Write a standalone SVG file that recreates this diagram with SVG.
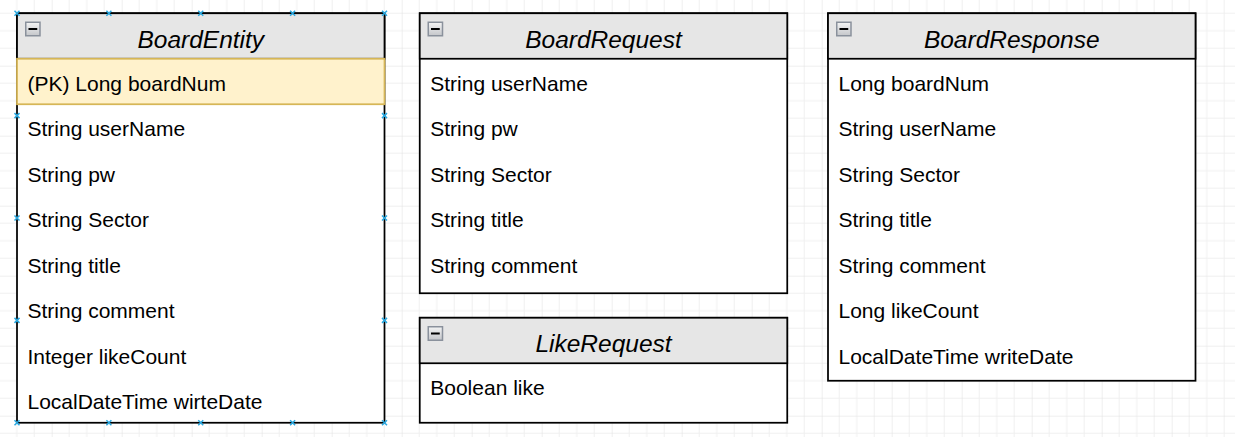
<svg xmlns="http://www.w3.org/2000/svg" width="1235" height="437" viewBox="0 0 1235 437">
<style>
.box{fill:#ffffff;stroke:#000000;stroke-width:1.75}
.hdr{fill:#e6e6e6;stroke:#000000;stroke-width:1.75}
.pk{fill:#fff2cc;stroke:#d6b656;stroke-width:1.75}
.title{font-family:"Liberation Sans",Arial,sans-serif;font-size:24.5px;font-style:italic;fill:#000;text-anchor:middle}
.row{font-family:"Liberation Sans",Arial,sans-serif;font-size:21px;fill:#000}
.pt{stroke:#29a8e0;stroke-width:1.5;fill:none}
</style>
<defs>
<pattern id="grid" x="-18.3" y="-4.3" width="70" height="70" patternUnits="userSpaceOnUse">
<path d="M17.5,0V70M35,0V70M52.5,0V70M0,17.5H70M0,35H70M0,52.5H70" stroke="#f0f0f0" stroke-width="1" fill="none"/>
<path d="M0,0V70M0,0H70" stroke="#e0e0e0" stroke-width="1" fill="none"/>
</pattern>
<linearGradient id="ig" x1="0" y1="0" x2="0" y2="1">
<stop offset="0" stop-color="#f4f4f4"/>
<stop offset="1" stop-color="#c4c6ca"/>
</linearGradient>
<g id="icon">
<rect x="0.75" y="0.75" width="14.25" height="13.5" fill="url(#ig)" stroke="#8a919c" stroke-width="1.5"/>
<rect x="3.5" y="6.5" width="8.75" height="2" fill="#000"/>
</g>
<path id="x" class="pt" d="M-2.5,-2.5L2.5,2.5M-2.5,2.5L2.5,-2.5"/>
</defs>
<rect width="1235" height="437" fill="#ffffff"/>
<rect width="1235" height="437" fill="url(#grid)"/>

<g id="BoardEntity">
<rect class="box" x="17" y="13.25" width="367.5" height="409.5"/>
<rect class="hdr" x="17" y="13.25" width="367.5" height="45.5"/>
<rect class="pk" x="17" y="58.75" width="367.5" height="45.5"/>
<use href="#icon" x="25" y="21.5"/>
<text class="title" x="200.75" y="47.5">BoardEntity</text>
<text class="row" x="27.5" y="90.5">(PK) Long boardNum</text>
<text class="row" x="27.5" y="136">String userName</text>
<text class="row" x="27.5" y="181.5">String pw</text>
<text class="row" x="27.5" y="227">String Sector</text>
<text class="row" x="27.5" y="272.5">String title</text>
<text class="row" x="27.5" y="318">String comment</text>
<text class="row" x="27.5" y="363.5">Integer likeCount</text>
<text class="row" x="27.5" y="409">LocalDateTime wirteDate</text>
<g>
<use href="#x" x="17" y="13.25"/><use href="#x" x="108.9" y="13.25"/><use href="#x" x="200.75" y="13.25"/><use href="#x" x="292.6" y="13.25"/><use href="#x" x="384.5" y="13.25"/>
<use href="#x" x="17" y="422.75"/><use href="#x" x="108.9" y="422.75"/><use href="#x" x="200.75" y="422.75"/><use href="#x" x="292.6" y="422.75"/><use href="#x" x="384.5" y="422.75"/>
<use href="#x" x="17" y="115.6"/><use href="#x" x="17" y="218"/><use href="#x" x="17" y="320.4"/>
<use href="#x" x="384.5" y="115.6"/><use href="#x" x="384.5" y="218"/><use href="#x" x="384.5" y="320.4"/>
</g>
</g>

<g id="BoardRequest">
<rect class="box" x="419.75" y="13.25" width="367.5" height="280"/>
<rect class="hdr" x="419.75" y="13.25" width="367.5" height="45.5"/>
<use href="#icon" x="427.5" y="21.5"/>
<text class="title" x="603.5" y="47.5">BoardRequest</text>
<text class="row" x="430.25" y="90.5">String userName</text>
<text class="row" x="430.25" y="136">String pw</text>
<text class="row" x="430.25" y="181.5">String Sector</text>
<text class="row" x="430.25" y="227">String title</text>
<text class="row" x="430.25" y="272.5">String comment</text>
</g>

<g id="LikeRequest">
<rect class="box" x="419.75" y="317.75" width="367.5" height="105"/>
<rect class="hdr" x="419.75" y="317.75" width="367.5" height="45.5"/>
<use href="#icon" x="427.5" y="326"/>
<text class="title" x="603.5" y="352">LikeRequest</text>
<text class="row" x="430.25" y="395">Boolean like</text>
</g>

<g id="BoardResponse">
<rect class="box" x="828" y="13.25" width="367.5" height="367.5"/>
<rect class="hdr" x="828" y="13.25" width="367.5" height="45.5"/>
<use href="#icon" x="836" y="21.5"/>
<text class="title" x="1011.75" y="47.5">BoardResponse</text>
<text class="row" x="838.5" y="90.5">Long boardNum</text>
<text class="row" x="838.5" y="136">String userName</text>
<text class="row" x="838.5" y="181.5">String Sector</text>
<text class="row" x="838.5" y="227">String title</text>
<text class="row" x="838.5" y="272.5">String comment</text>
<text class="row" x="838.5" y="318">Long likeCount</text>
<text class="row" x="838.5" y="363.5">LocalDateTime writeDate</text>
</g>

<g id="connectors"></g>
</svg>
